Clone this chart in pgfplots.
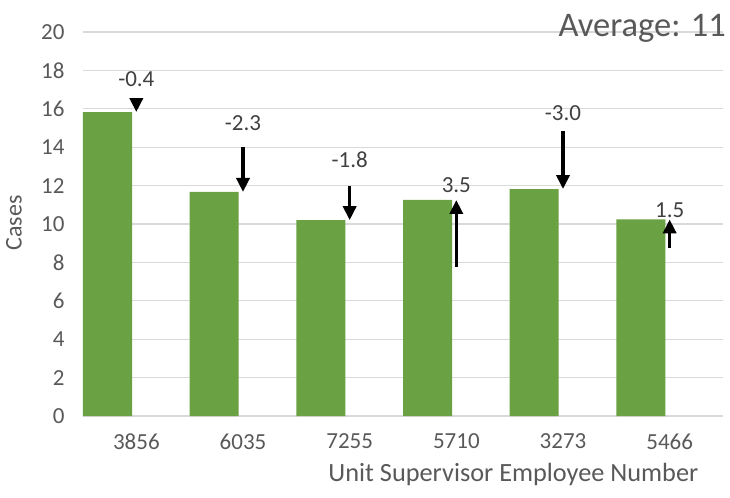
\documentclass[border=0pt]{standalone}
\usepackage{fontspec}
\setmainfont{Carlito}
\usepackage{pgfplots}
\pgfplotsset{compat=1.18}
\usetikzlibrary{arrows.meta}
\definecolor{barg}{HTML}{6AA142}
\definecolor{txt}{HTML}{595959}
\definecolor{lbl}{HTML}{404040}
\definecolor{grd}{HTML}{D9D9D9}
\begin{document}
\begin{tikzpicture}
\path[use as bounding box] (-83bp,-82bp) rectangle (647bp,416bp);
\begin{axis}[at={(0,0)}, anchor=south west, scale only axis,
  width=640bp, height=384bp,
  xmin=-0.5, xmax=5.5, ymin=0, ymax=20,
  ytick={0,2,...,20}, xtick={0,...,5},
  xticklabels={3856,6035,7255,5710,3273,5466},
  axis line style={draw=none},
  major tick style={draw=none},
  ymajorgrids, major grid style={grd, line width=1.2bp},
  /pgf/number format/assume math mode=true,
  ticklabel style={font=\fontsize{23bp}{23bp}\selectfont, text=txt},
  yticklabel style={xshift=-15bp},
  xticklabel style={yshift=-14bp},
  xlabel={Unit Supervisor Employee Number},
  xlabel style={at={(axis description cs:0.967,-0.152)}, anchor=east, font=\fontsize{26.3bp}{26.3bp}\selectfont, text=txt},
  ylabel={Cases},
  ylabel style={at={(axis description cs:-0.108,0.503)}, anchor=center, font=\fontsize{24bp}{24bp}\selectfont, text=txt},
  clip=false,
]
\addplot[ybar, bar width=0.46, bar shift=-0.27, fill=barg, draw=none]
  coordinates {(0,15.83) (1,11.67) (2,10.2) (3,11.25) (4,11.82) (5,10.24)};
\addplot[black, line width=3.5bp, -{Triangle[width=13bp,length=14bp]},
  quiver={u=0, v=\thisrow{dv}}] table[x=x, y=y] {
x y dv
0 16.23 -0.4
1 14.0 -2.33
2 12.0 -1.8
3 7.75 3.5
4 14.82 -3.0
5 8.74 1.5
};
\addplot[draw=none, mark=none, nodes near coords, point meta=explicit symbolic,
  every node near coord/.style={anchor=center, font=\fontsize{23bp}{23bp}\selectfont, text=lbl}]
  table[x=x, y=y, meta=t] {
x y t
0 17.55 -0.4
1 15.26 -2.3
2 13.33 -1.8
3 12.03 3.5
4 15.78 -3.0
5 10.73 1.5
};
\node[anchor=east, font=\fontsize{34.5bp}{34.5bp}\selectfont, text=txt, inner sep=0pt]
  at (axis description cs:1.0047,1.01) {Average: 11};
\end{axis}
\end{tikzpicture}
\end{document}
